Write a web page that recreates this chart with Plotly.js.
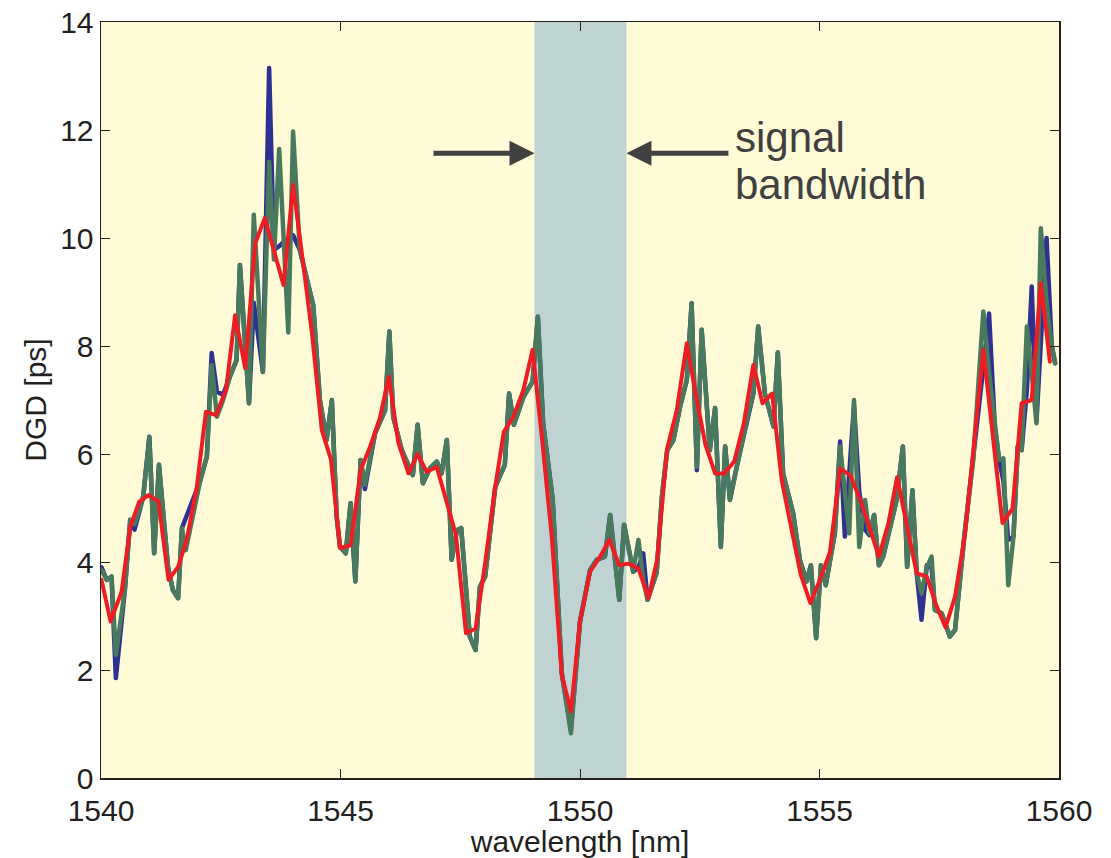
<!DOCTYPE html>
<html>
<head>
<meta charset="utf-8">
<script src="https://cdn.plot.ly/plotly-3.0.1.min.js"></script>
<style>
html,body{margin:0;padding:0;background:#fff;}
#chart{width:1111px;height:858px;}
#chart path.js-line{stroke-linejoin:round !important;stroke-linecap:round !important;}
</style>
</head>
<body>
<div id="chart"></div>
<script>
// wavelength grid shared by the two measured DGD curves [nm]
const wavelength = [1540.01,1540.12,1540.22,1540.31,1540.50,1540.61,1540.70,1540.88,1541.01,1541.11,1541.21,1541.32,1541.40,1541.50,1541.61,1541.69,1541.77,1542.07,1542.21,1542.31,1542.42,1542.55,1542.69,1542.83,1542.90,1543.09,1543.19,1543.38,1543.51,1543.61,1543.72,1543.91,1544.01,1544.15,1544.43,1544.57,1544.71,1544.82,1544.92,1544.99,1545.11,1545.21,1545.31,1545.42,1545.51,1545.72,1545.93,1546.02,1546.10,1546.28,1546.51,1546.61,1546.72,1546.87,1547.01,1547.11,1547.22,1547.32,1547.43,1547.52,1547.70,1547.82,1547.91,1548.02,1548.23,1548.43,1548.52,1548.62,1548.82,1549.01,1549.12,1549.23,1549.43,1549.62,1549.81,1550.00,1550.21,1550.35,1550.52,1550.63,1550.82,1550.92,1551.11,1551.22,1551.32,1551.41,1551.60,1551.71,1551.82,1551.95,1552.09,1552.23,1552.33,1552.44,1552.54,1552.71,1552.82,1552.94,1553.03,1553.13,1553.27,1553.48,1553.62,1553.72,1553.86,1554.04,1554.13,1554.24,1554.45,1554.59,1554.73,1554.82,1554.93,1555.03,1555.13,1555.32,1555.43,1555.53,1555.62,1555.72,1555.83,1555.95,1556.04,1556.14,1556.24,1556.33,1556.61,1556.74,1556.83,1556.94,1557.03,1557.13,1557.24,1557.34,1557.41,1557.55,1557.72,1557.83,1558.02,1558.21,1558.42,1558.54,1558.66,1558.75,1558.84,1558.94,1559.05,1559.14,1559.22,1559.33,1559.43,1559.53,1559.62,1559.74,1559.85,1559.92];

// DGD, measurement 1 (blue) [ps]
const dgdBlue = [3.9,3.67,3.73,1.85,3.5,4.78,4.6,5.2,6.32,4.16,5.8,4.65,3.9,3.48,3.33,4.63,4.81,5.5,5.95,7.87,7.15,7.1,7.43,7.74,9.5,6.94,8.8,7.52,13.15,9.78,9.85,10.0,10.05,9.78,8.76,7.0,6.26,7.0,4.84,4.28,4.16,5.09,3.64,5.89,5.35,6.38,6.81,8.27,6.69,6.07,5.61,6.54,5.46,5.74,5.86,5.64,6.26,4.04,4.59,4.63,2.62,2.37,3.54,3.73,5.39,5.80,7.12,6.54,7.06,7.34,8.54,6.57,5.15,1.94,0.9,2.9,3.85,4.04,4.1,4.87,3.3,4.69,3.82,3.9,4.16,3.3,3.8,5.21,6.07,6.26,6.88,7.37,8.79,5.7,8.30,6.07,6.85,4.28,6.14,5.15,5.76,6.63,7.12,8.36,7.12,6.51,7.88,5.64,4.9,4.04,3.64,3.94,2.59,3.94,3.57,4.53,6.23,4.47,5.5,6.9,5.3,4.6,4.5,4.87,3.94,4.1,5.15,6.14,3.91,5.33,3.79,2.93,3.94,3.9,3.11,3.05,2.62,2.74,4.45,5.89,7.6,8.6,6.51,5.89,5.5,4.41,4.47,6.14,6.07,7.2,9.1,6.6,8.0,10.0,8.0,7.68];

// DGD, measurement 2 (green) [ps]
const dgdGreen = [3.85,3.67,3.73,2.28,3.5,4.78,4.7,5.2,6.32,4.16,5.8,4.65,3.9,3.48,3.33,4.63,4.22,5.5,5.95,7.65,6.69,7.0,7.43,7.74,9.5,6.94,10.43,7.52,11.41,9.6,11.65,8.25,11.97,9.78,8.76,7.0,6.26,7.0,4.84,4.28,4.16,5.09,3.64,5.89,5.43,6.38,6.81,8.27,6.69,6.07,5.61,6.54,5.46,5.74,5.86,5.64,6.26,4.04,4.59,4.63,2.62,2.37,3.54,3.73,5.39,5.80,7.12,6.54,7.06,7.34,8.54,6.57,5.15,1.94,0.83,2.9,3.85,4.04,4.1,4.87,3.3,4.69,3.82,4.41,3.67,3.3,3.8,5.21,6.07,6.26,6.88,7.37,8.79,5.76,8.30,6.07,6.85,4.28,6.14,5.15,5.76,6.63,7.12,8.36,7.12,6.51,7.88,5.64,4.9,4.04,3.64,3.94,2.59,3.94,3.57,4.53,6.14,5.2,4.53,7.0,4.28,5.15,4.53,4.87,3.94,4.1,5.15,6.14,3.91,5.33,3.79,3.42,3.9,4.1,3.11,3.05,2.62,2.74,4.45,5.89,8.64,7.5,6.51,5.89,5.92,3.57,4.47,6.14,6.07,8.36,7.5,6.57,10.18,8.8,7.99,7.68];

// averaged DGD (red) [ps]
const wavelengthAvg = [1540.01,1540.20,1540.43,1540.61,1540.80,1540.99,1541.20,1541.41,1541.61,1541.79,1542.00,1542.19,1542.40,1542.61,1542.80,1543.01,1543.22,1543.42,1543.81,1544.01,1544.21,1544.41,1544.61,1544.80,1544.99,1545.21,1545.42,1545.62,1545.82,1546.01,1546.21,1546.42,1546.61,1546.80,1547.01,1547.22,1547.41,1547.62,1547.82,1548.02,1548.23,1548.41,1548.61,1548.82,1549.01,1549.21,1549.41,1549.62,1549.81,1550.00,1550.21,1550.42,1550.61,1550.82,1551.01,1551.22,1551.43,1551.61,1551.82,1552.02,1552.23,1552.42,1552.62,1552.82,1553.01,1553.22,1553.42,1553.62,1553.81,1554.01,1554.21,1554.42,1554.61,1554.81,1555.01,1555.22,1555.43,1555.64,1555.85,1556.04,1556.24,1556.44,1556.62,1556.83,1557.03,1557.24,1557.45,1557.63,1557.83,1558.04,1558.25,1558.42,1558.82,1559.03,1559.22,1559.43,1559.62,1559.81];
const dgdAvg = [3.67,2.9,3.45,4.65,5.12,5.24,5.12,3.67,3.91,4.41,5.39,6.78,6.72,7.19,8.57,7.59,9.9,10.37,9.13,10.98,9.6,8.2,6.44,5.9,4.26,4.31,5.7,6.14,6.66,7.43,6.2,5.64,6.0,5.67,5.76,5.09,4.5,2.68,2.77,3.98,5.39,6.41,6.69,7.19,7.93,6.26,4.47,1.91,1.23,2.9,3.82,4.1,4.41,3.94,3.97,3.88,3.33,4.04,6.1,6.81,8.05,7.09,6.17,5.64,5.64,5.86,6.57,7.65,6.94,7.12,5.52,4.59,3.76,3.24,3.67,4.19,5.73,5.61,5.15,4.65,4.1,4.72,5.57,4.65,3.79,3.73,3.17,2.79,3.36,4.53,6.38,7.93,4.72,4.99,6.94,7.0,9.16,7.71];

// signal band and axis ticks
const bandEdges = [1549.05, 1550.97];
const xTicks = [1540, 1545, 1550, 1555, 1560];
const yTicks = [0, 2, 4, 6, 8, 10, 12, 14];
const arrowY = 11.57;
const arrowTails = [1546.91, 1553.13];
const labelLines = ["signal", "bandwidth"];

const axisColor = '#231F20';
const tickFont = {family: 'Liberation Sans, Arial, sans-serif', size: 30, color: axisColor};
const noteFont = {family: 'Liberation Sans, Arial, sans-serif', size: 42, color: '#404040'};

const traces = [
  {x: wavelength, y: dgdBlue, mode: 'lines', line: {color: '#2E3192', width: 4.5}, hoverinfo: 'skip'},
  {x: wavelength, y: dgdGreen, mode: 'lines', line: {color: '#4A7A5E', width: 4.5}, hoverinfo: 'skip'},
  {x: wavelengthAvg, y: dgdAvg, mode: 'lines', line: {color: '#EE1D24', width: 4}, hoverinfo: 'skip'}
];

const layout = {
  width: 1111, height: 858,
  margin: {l: 101, r: 52, t: 22, b: 80},
  paper_bgcolor: '#ffffff',
  plot_bgcolor: '#FFFBD6',
  showlegend: false,
  xaxis: {
    range: [1540, 1560], tickvals: xTicks, ticktext: xTicks.map(String),
    ticks: 'inside', ticklen: 9, tickwidth: 1, tickcolor: axisColor,
    showline: true, linecolor: axisColor, linewidth: 1.5, mirror: 'ticks',
    showgrid: false, zeroline: false, tickfont: tickFont, ticklabelstandoff: 5,
    title: {text: 'wavelength [nm]', font: tickFont, standoff: 7}
  },
  yaxis: {
    range: [0, 14], tickvals: yTicks, ticktext: yTicks.map(String),
    ticks: 'inside', ticklen: 9, tickwidth: 1, tickcolor: axisColor,
    showline: true, linecolor: axisColor, linewidth: 1.5, mirror: 'ticks',
    showgrid: false, zeroline: false, tickfont: tickFont,
    title: {text: 'DGD [ps]', font: tickFont, standoff: 4}
  },
  shapes: [{
    type: 'rect', xref: 'x', yref: 'paper', x0: bandEdges[0], x1: bandEdges[1], y0: 0, y1: 1,
    fillcolor: '#BFD3D3', line: {width: 0}, layer: 'below'
  }],
  annotations: [
    {x: bandEdges[0], y: arrowY, ax: arrowTails[0], ay: arrowY, xref: 'x', yref: 'y', axref: 'x', ayref: 'y',
     text: '', showarrow: true, arrowhead: 2, arrowsize: 1, arrowwidth: 5, arrowcolor: '#404040', standoff: 0},
    {x: bandEdges[1], y: arrowY, ax: arrowTails[1], ay: arrowY, xref: 'x', yref: 'y', axref: 'x', ayref: 'y',
     text: '', showarrow: true, arrowhead: 2, arrowsize: 1, arrowwidth: 5, arrowcolor: '#404040', standoff: 0},
    {x: 1553.19, y: 11.87, xref: 'x', yref: 'y', text: labelLines[0], showarrow: false, xanchor: 'left', yanchor: 'middle', font: noteFont},
    {x: 1553.19, y: 11.0, xref: 'x', yref: 'y', text: labelLines[1], showarrow: false, xanchor: 'left', yanchor: 'middle', font: noteFont}
  ]
};

Plotly.newPlot('chart', traces, layout, {displayModeBar: false, staticPlot: true});
</script>
</body>
</html>
